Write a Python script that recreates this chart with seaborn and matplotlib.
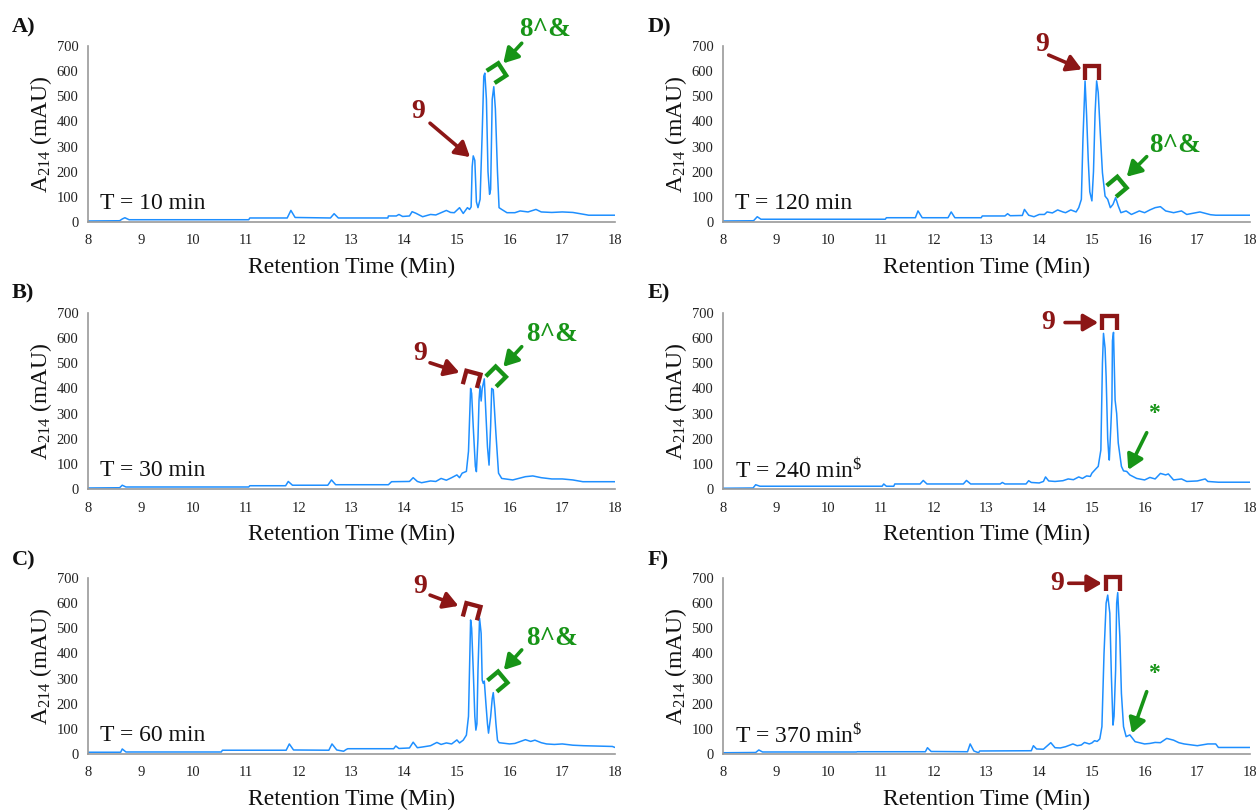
import numpy as np
import pandas as pd
import matplotlib
matplotlib.use("Agg")
import matplotlib.pyplot as plt
import matplotlib.transforms as mtransforms
from matplotlib.lines import Line2D
import seaborn as sns

# ---------------- data (retention time [min], A214 [mAU]) ----------------
panel_ids = ["A", "B", "C", "D", "E", "F"]
time_labels = ["T = 10 min", "T = 30 min", "T = 60 min",
               "T = 120 min", "T = 240 min$^{\\$}$", "T = 370 min$^{\\$}$"]

trace_A = [(8.00, 4), (8.60, 5), (8.65, 12), (8.70, 17), (8.78, 9), (11.05, 9), (11.07, 16),
           (11.78, 16), (11.85, 46), (11.93, 18), (12.60, 16), (12.67, 33), (12.75, 16),
           (13.69, 16), (13.70, 24), (13.85, 24), (13.90, 30), (13.97, 22), (14.10, 24),
           (14.15, 41), (14.22, 35), (14.35, 21), (14.50, 30), (14.60, 28), (14.70, 37),
           (14.80, 46), (14.88, 38), (14.95, 37), (15.05, 57), (15.12, 34), (15.20, 57),
           (15.24, 50), (15.27, 60), (15.29, 220), (15.31, 263), (15.34, 245), (15.37, 80),
           (15.40, 57), (15.44, 90), (15.48, 355), (15.51, 580), (15.53, 592), (15.56, 488),
           (15.59, 200), (15.62, 110), (15.64, 130), (15.67, 488), (15.70, 538), (15.73, 450),
           (15.77, 200), (15.80, 57), (15.85, 50), (15.95, 37), (16.10, 37), (16.20, 44),
           (16.35, 40), (16.50, 50), (16.60, 40), (16.80, 38), (17.00, 40), (17.20, 38),
           (17.45, 29), (17.50, 27), (18.00, 27)]

trace_B = [(8.00, 4), (8.60, 5), (8.65, 15), (8.72, 8), (11.05, 8), (11.07, 13), (11.75, 13),
           (11.80, 30), (11.88, 15), (12.55, 15), (12.62, 36), (12.70, 17), (13.70, 17),
           (13.76, 29), (14.10, 30), (14.17, 45), (14.25, 30), (14.33, 25), (14.50, 32),
           (14.60, 30), (14.70, 42), (14.80, 35), (14.90, 45), (15.00, 56), (15.05, 45),
           (15.10, 63), (15.18, 70), (15.22, 150), (15.26, 400), (15.28, 380), (15.31, 248),
           (15.35, 90), (15.37, 69), (15.40, 200), (15.42, 354), (15.44, 410), (15.46, 350),
           (15.48, 400), (15.52, 438), (15.55, 300), (15.58, 168), (15.61, 95), (15.64, 250),
           (15.66, 400), (15.69, 395), (15.74, 222), (15.79, 63), (15.85, 42), (16.06, 36),
           (16.30, 49), (16.44, 52), (16.60, 45), (16.80, 40), (17.00, 40), (17.20, 36),
           (17.39, 29), (18.00, 29)]

trace_C = [(8.00, 7), (8.62, 7), (8.65, 20), (8.72, 8), (10.53, 8), (10.55, 15), (11.76, 15),
           (11.82, 40), (11.90, 16), (12.57, 15), (12.63, 40), (12.72, 16), (12.85, 11),
           (12.90, 18), (12.93, 21), (13.80, 21), (13.84, 32), (13.90, 22), (14.10, 24),
           (14.17, 47), (14.25, 25), (14.35, 28), (14.50, 33), (14.62, 46), (14.70, 38),
           (14.80, 44), (14.90, 40), (15.00, 56), (15.05, 44), (15.12, 55), (15.18, 75),
           (15.22, 150), (15.26, 533), (15.28, 500), (15.31, 334), (15.34, 150), (15.36, 95),
           (15.38, 120), (15.40, 334), (15.43, 540), (15.46, 480), (15.48, 294), (15.50, 281),
           (15.52, 290), (15.55, 202), (15.58, 120), (15.60, 83), (15.64, 148), (15.67, 220),
           (15.69, 244), (15.72, 180), (15.74, 122), (15.77, 55), (15.80, 45), (16.00, 40),
           (16.10, 42), (16.30, 57), (16.40, 50), (16.48, 55), (16.60, 45), (16.70, 40),
           (16.85, 38), (17.00, 40), (17.20, 35), (17.40, 33), (17.95, 30), (18.00, 26)]

trace_D = [(8.00, 4), (8.58, 5), (8.65, 21), (8.72, 11), (11.08, 11), (11.10, 17), (11.65, 17),
           (11.70, 44), (11.78, 17), (12.27, 17), (12.33, 40), (12.40, 17), (12.90, 17),
           (12.92, 24), (13.35, 24), (13.40, 33), (13.45, 25), (13.68, 26), (13.72, 50),
           (13.80, 27), (13.90, 21), (14.00, 30), (14.10, 30), (14.15, 40), (14.25, 36),
           (14.35, 48), (14.45, 40), (14.50, 37), (14.60, 48), (14.70, 40), (14.75, 57),
           (14.80, 90), (14.83, 329), (14.87, 561), (14.90, 422), (14.93, 250), (14.96, 120),
           (15.00, 84), (15.03, 200), (15.06, 430), (15.09, 561), (15.12, 515), (15.16, 350),
           (15.20, 196), (15.25, 103), (15.30, 90), (15.35, 57), (15.40, 70), (15.45, 97),
           (15.50, 64), (15.55, 37), (15.65, 44), (15.75, 30), (15.90, 44), (16.00, 37),
           (16.10, 48), (16.20, 57), (16.30, 61), (16.40, 44), (16.55, 37), (16.70, 44),
           (16.80, 30), (17.05, 40), (17.25, 29), (17.35, 27), (18.00, 27)]

trace_E = [(8.00, 3), (8.57, 4), (8.62, 17), (8.70, 11), (11.02, 11), (11.05, 20), (11.10, 11),
           (11.24, 11), (11.26, 20), (11.74, 20), (11.80, 34), (11.87, 20), (12.56, 20),
           (12.62, 34), (12.70, 20), (13.26, 20), (13.30, 26), (13.35, 20), (13.75, 20),
           (13.80, 33), (13.85, 26), (14.00, 24), (14.08, 30), (14.12, 48), (14.18, 32),
           (14.30, 30), (14.45, 33), (14.55, 40), (14.65, 37), (14.75, 48), (14.82, 42),
           (14.90, 52), (14.97, 50), (15.00, 63), (15.07, 79), (15.12, 90), (15.17, 155),
           (15.20, 500), (15.22, 619), (15.25, 560), (15.27, 447), (15.30, 200), (15.32, 135),
           (15.33, 115), (15.36, 250), (15.38, 354), (15.39, 590), (15.41, 623), (15.44, 354),
           (15.47, 300), (15.50, 183), (15.56, 90), (15.60, 72), (15.66, 70), (15.72, 56),
           (15.85, 42), (16.00, 36), (16.10, 46), (16.20, 40), (16.30, 62), (16.40, 56),
           (16.45, 60), (16.55, 36), (16.70, 40), (16.80, 30), (17.00, 32), (17.15, 40),
           (17.20, 30), (17.40, 27), (18.00, 27)]

trace_F = [(8.00, 5), (8.62, 6), (8.68, 16), (8.75, 8), (10.53, 8), (10.55, 9), (11.84, 9),
           (11.88, 25), (11.95, 10), (12.64, 9), (12.69, 40), (12.76, 12), (12.85, 5),
           (12.87, 12), (13.85, 13), (13.89, 33), (13.95, 20), (14.08, 19), (14.22, 45),
           (14.30, 25), (14.40, 24), (14.50, 29), (14.64, 40), (14.72, 33), (14.80, 36),
           (14.86, 46), (14.95, 40), (15.00, 44), (15.05, 53), (15.10, 50), (15.15, 60),
           (15.19, 109), (15.23, 400), (15.27, 600), (15.30, 632), (15.34, 560), (15.37, 308),
           (15.40, 115), (15.42, 150), (15.45, 334), (15.47, 600), (15.49, 642), (15.53, 467),
           (15.56, 241), (15.60, 109), (15.65, 69), (15.72, 76), (15.82, 49), (16.00, 40),
           (16.10, 42), (16.20, 46), (16.30, 45), (16.42, 62), (16.55, 55), (16.65, 45),
           (16.75, 40), (17.00, 33), (17.20, 40), (17.35, 40), (17.40, 26), (18.00, 26)]

traces = [trace_A, trace_B, trace_C, trace_D, trace_E, trace_F]
x_ticks = [8, 9, 10, 11, 12, 13, 14, 15, 16, 17, 18]
y_ticks = [0, 100, 200, 300, 400, 500, 600, 700]

# ---------------- annotation layout (label positions in data coords) ----------------
RED = "#8c1616"
GREEN = "#179417"
BLUE = "#1e8fff"
annotations = {
    "A": dict(red_text=(14.27, 440), red_arrow=((14.49, 393), (15.25, 258)), red_br=None,
              green_text=("8^&", 16.67, 764), green_arrow=((16.23, 711), (15.88, 631)),
              green_br=(15.75, 592, 57)),
    "B": dict(red_text=(14.30, 540), red_arrow=((14.49, 502), (15.05, 463)), red_br=(15.28, 436, 15),
              green_text=("8^&", 16.80, 613), green_arrow=((16.23, 566), (15.88, 486)),
              green_br=(15.74, 447, 45)),
    "C": dict(red_text=(14.30, 666), red_arrow=((14.49, 632), (15.03, 589)), red_br=(15.28, 566, 15),
              green_text=("8^&", 16.80, 460), green_arrow=((16.23, 414), (15.89, 334)),
              green_br=(15.77, 288, 50)),
    "D": dict(red_text=(14.05, 704), red_arrow=((14.18, 664), (14.81, 607)), red_br=(15.00, 593, 0),
              green_text=("8^&", 16.58, 306), green_arrow=((16.04, 260), (15.66, 180)),
              green_br=(15.47, 140, 50)),
    "E": dict(red_text=(14.18, 662), red_arrow=((14.49, 662), (15.12, 662)), red_br=(15.33, 659, 0),
              green_text=("*", 16.17, 300), green_arrow=((16.04, 224), (15.69, 76)),
              green_br=None),
    "F": dict(red_text=(14.34, 679), red_arrow=((14.56, 679), (15.19, 679)), red_br=(15.40, 675, 0),
              green_text=("*", 16.17, 320), green_arrow=((16.04, 248), (15.76, 82)),
              green_br=None),
}

# ---------------- style ----------------
sns.set_style("white")
plt.rcParams["font.family"] = ["Liberation Serif", "DejaVu Serif"]
plt.rcParams["mathtext.fontset"] = "custom"
plt.rcParams["mathtext.rm"] = "Liberation Serif"
plt.rcParams["mathtext.it"] = "Liberation Serif:italic"
plt.rcParams["mathtext.bf"] = "Liberation Serif:bold"

W, H = 1259, 811
fig = plt.figure(figsize=(W / 100, H / 100), dpi=100)

col_left = [88, 723]
row_zero = [222, 489, 754]
ax_w, ax_h = 527, 176


def draw_bracket(ax, x, y, angle, color, w=10.5, h=10.0):
    pts = np.array([[-w / 2, -h / 2], [-w / 2, h / 2], [w / 2, h / 2], [w / 2, -h / 2]])
    tr = (mtransforms.Affine2D().rotate_deg(-angle).scale(1 / 72.0)
          + ax.figure.dpi_scale_trans
          + mtransforms.ScaledTranslation(x, y, ax.transData))
    ln = Line2D(pts[:, 0], pts[:, 1], transform=tr, color=color, lw=3.1,
                solid_joinstyle="miter", solid_capstyle="butt", clip_on=False)
    ax.add_artist(ln)


def draw_arrow(ax, tail, head, color):
    ax.annotate("", xy=head, xytext=tail, annotation_clip=False,
                arrowprops=dict(arrowstyle="-|>,head_length=0.55,head_width=0.32",
                                color=color, lw=2.6, mutation_scale=16,
                                shrinkA=0, shrinkB=0))


for i, pid in enumerate(panel_ids):
    col = i // 3
    row = i % 3
    left = col_left[col] / W
    bottom = 1 - row_zero[row] / H
    ax = fig.add_axes([left, bottom, ax_w / W, ax_h / H])

    df = pd.DataFrame(traces[i], columns=["Retention Time (Min)", "A214"])
    sns.lineplot(data=df, x="Retention Time (Min)", y="A214", ax=ax, color=BLUE,
                 lw=1.1, estimator=None, sort=False)

    ax.set_xlim(8, 18)
    ax.set_ylim(0, 700)
    ax.set_xticks(x_ticks)
    ax.set_yticks(y_ticks)
    ax.tick_params(axis="both", labelsize=10.5, colors="#9a9a9a", labelcolor="#222222",
                   length=4, width=1, direction="out")
    ax.tick_params(axis="x", pad=5)
    ax.tick_params(axis="y", pad=3)
    for s in ["top", "right"]:
        ax.spines[s].set_visible(False)
    for s in ["left", "bottom"]:
        ax.spines[s].set_color("#9a9a9a")
        ax.spines[s].set_linewidth(1.2)

    ax.set_xlabel("Retention Time (Min)", fontsize=17, labelpad=7, color="#111111")
    ax.set_ylabel("A$_{\\mathrm{214}}$ (mAU)", fontsize=17, labelpad=2, color="#111111")

    ax.text(8.22, 74, time_labels[i], fontsize=17, ha="left", va="center", color="#111111")

    # panel letter
    fig.text((12 if col == 0 else 648) / W, 1 - [27, 293, 560][row] / H, pid + ")",
             fontsize=16, fontweight="bold", ha="left", va="center", color="#111111")

    a = annotations[pid]
    ax.text(a["red_text"][0], a["red_text"][1], "9", color=RED, fontsize=20,
            fontweight="bold", ha="center", va="center", clip_on=False)
    draw_arrow(ax, a["red_arrow"][0], a["red_arrow"][1], RED)
    if a["red_br"] is not None:
        draw_bracket(ax, a["red_br"][0], a["red_br"][1], a["red_br"][2], RED)

    gt, gx, gy = a["green_text"]
    ax.text(gx, gy, gt, color=GREEN, fontsize=19.5 if gt != "*" else 17,
            fontweight="bold", ha="center", va="center", clip_on=False)
    draw_arrow(ax, a["green_arrow"][0], a["green_arrow"][1], GREEN)
    if a["green_br"] is not None:
        draw_bracket(ax, a["green_br"][0], a["green_br"][1], a["green_br"][2], GREEN)

fig.savefig("out.png", dpi=100)
